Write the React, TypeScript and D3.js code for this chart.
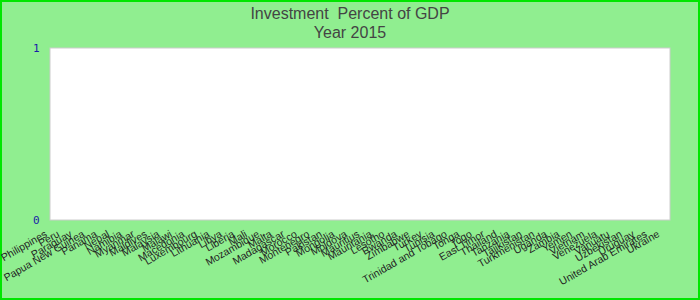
import React from "react";
import * as d3 from "d3";

const title = "Investment  Percent of GDP";
const subtitle = "Year 2015";
const countries = [
  "Philippines", "Peru", "Paraguay", "Papua New Guinea", "Panama", "Nepal", "Namibia",
  "Myanmar", "Maldives", "Malaysia", "Malawi", "Macedonia", "Luxembourg", "Lithuania",
  "Libya", "Liberia", "Mali", "Mozambique", "Malta", "Madagascar", "Morocco", "Montenegro",
  "Pakistan", "Mongolia", "Moldova", "Mauritius", "Mauritania", "Lesotho", "Rwanda",
  "Zimbabwe", "Turkey", "Tunisia", "Trinidad and Tobago", "Tonga", "Togo", "East Timor",
  "Thailand", "Tanzania", "Tajikistan", "Turkmenistan", "Uganda", "Zambia", "Yemen",
  "Vietnam", "Venezuela", "Vanuatu", "Uzbekistan", "Uruguay", "United Arab Emirates", "Ukraine",
];
const values: (number | null)[] = countries.map(() => null);
const yTicks = [0, 1];

export default function App() {
  const W = 700, H = 300;
  const left = 50, right = 670, top = 48, bottom = 220;
  const x = d3.scalePoint<string>().domain(countries).range([left, right]).padding(0.3);
  const y = d3.scaleLinear().domain([0, 1]).range([bottom, top]);
  return (
    <div style={{ position: "absolute", left: 0, top: 0 }}>
      <svg width={W} height={H} style={{ display: "block" }}>
        <rect x={1} y={1} width={W - 2} height={H - 2} fill="#90ee90" stroke="#00e600" strokeWidth={2} />
        <rect x={left} y={top} width={right - left} height={bottom - top} fill="#fff" stroke="#cccccc" strokeWidth={1} />
        <text x={W / 2} y={18.5} textAnchor="middle" fontFamily="Liberation Sans, Arial" fontSize={16} fill="#444" style={{ whiteSpace: "pre" }}>{title}</text>
        <text x={W / 2} y={38} textAnchor="middle" fontFamily="Liberation Sans, Arial" fontSize={16} fill="#444">{subtitle}</text>
        {yTicks.map((t) => (
          <text key={t} x={39.5} y={y(t)} dy="0.35em" textAnchor="end" fontFamily="DejaVu Sans Mono, monospace" fontSize={11} fill="#1a1aa8">{t}</text>
        ))}
        {countries.map((c, i) =>
          values[i] == null ? null : (
            <circle key={"p" + c} cx={x(c)} cy={y(values[i] as number)} r={3} fill="#36c" />
          )
        )}
        {countries.map((c) => (
          <text key={c} transform={`translate(${(x(c) as number) - 6},${bottom + 16}) rotate(-30)`} textAnchor="end" fontFamily="Liberation Sans, Arial" fontSize={10.5} fill="#222">{c}</text>
        ))}
      </svg>
    </div>
  );
}
